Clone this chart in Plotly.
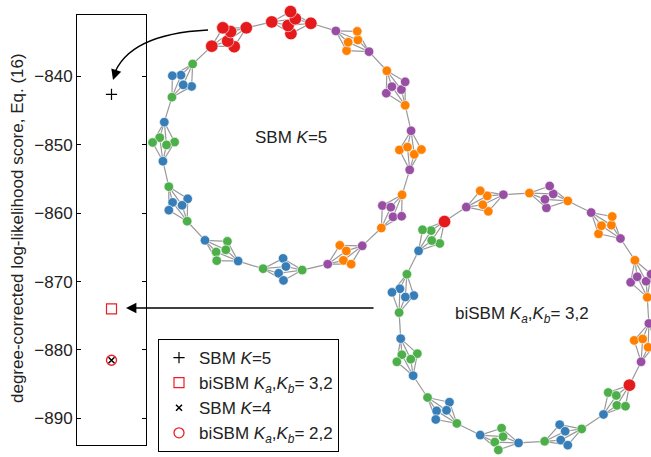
import math
import plotly.graph_objects as go

W, H = 651, 457

# ---------------- data ----------------
model_names = [
    "SBM <i>K</i>=5",
    "biSBM <i>K<sub>a</sub></i>,<i>K<sub>b</sub></i>= 3,2",
    "SBM <i>K</i>=4",
    "biSBM <i>K<sub>a</sub></i>,<i>K<sub>b</sub></i>= 2,2",
]
model_scores = [-842.6, -874.0, -881.5, -881.5]
y_tick_values = [-890, -880, -870, -860, -850, -840]

# ring of 12 bicliques; group label of each clique's first end, interior (4 nodes), second end
sbm_end1 = ["r", "r", "p", "o", "p", "o", "p", "g", "b", "g", "b", "g"]
sbm_inner = ["r", "r", "o", "p", "o", "p", "o", "b", "g", "b", "g", "b"]
sbm_end2 = ["r", "r", "p", "o", "p", "o", "p", "g", "b", "g", "b", "g"]

bisbm_end1 = ["p", "o", "p", "o", "p", "r", "g", "b", "g", "b", "g", "b"]
bisbm_inner = ["o", "p", "o", "p", "o", "g", "b", "g", "b", "g", "b", "g"]
bisbm_end2 = ["p", "o", "p", "o", "p", "b", "g", "b", "g", "b", "g", "r"]

# ---------------- styles ----------------
GROUP_COLORS = {"r": "#e41a1c", "b": "#377eb8", "g": "#4daf4a", "p": "#984ea3", "o": "#ff7f00"}
GROUP_SIZES = {"r": 12.5, "b": 9.5, "g": 9.5, "p": 9.5, "o": 9.5}
FONT = "Liberation Sans, Arial, Helvetica, sans-serif"
EDGE_COLOR = "#999999"
INNER_T = [0.50, 0.42, 0.60, 0.47]
INNER_S = [-11, -3, 4, 11]


def ring_of_cliques(end1, inner, end2, cx, cy, R, theta0, step=30.0, half=9.0):
    xs, ys, cols, sizes = [], [], [], []
    ex, ey = [], []
    ends = []
    for k in range(len(end1)):
        th = math.radians(theta0 - step * k)
        d = math.radians(half)
        e1 = (cx + R * math.cos(th + d), cy - R * math.sin(th + d))
        e2 = (cx + R * math.cos(th - d), cy - R * math.sin(th - d))
        nx, ny = math.cos(th), -math.sin(th)
        pts_in = []
        for t, s in zip(INNER_T, INNER_S):
            px = e1[0] + t * (e2[0] - e1[0]) + s * nx
            py = e1[1] + t * (e2[1] - e1[1]) + s * ny
            pts_in.append((px, py))
        for p in pts_in:
            for e in (e1, e2):
                ex += [e[0], p[0], None]
                ey += [e[1], p[1], None]
        ends.append((e1, e2))
        for p, g in [(e1, end1[k])] + [(q, inner[k]) for q in pts_in] + [(e2, end2[k])]:
            xs.append(p[0]); ys.append(p[1])
            cols.append(GROUP_COLORS[g]); sizes.append(GROUP_SIZES[g])
    n = len(ends)
    for k in range(n):
        a = ends[k][1]
        b = ends[(k + 1) % n][0]
        ex += [a[0], b[0], None]
        ey += [a[1], b[1], None]
    return xs, ys, cols, sizes, ex, ey


fig = go.Figure()

# ---------------- networks (pixel-like coordinates on x2/y2) ----------------
for (e1, inn, e2, cx, cy, R, th0) in [
    (sbm_end1, sbm_inner, sbm_end2, 287, 146, 125, 118),
    (bisbm_end1, bisbm_inner, bisbm_end2, 524, 318, 125, 108.5),
]:
    xs, ys, cols, sizes, ex, ey = ring_of_cliques(e1, inn, e2, cx, cy, R, th0)
    fig.add_trace(go.Scatter(x=ex, y=ey, mode="lines", xaxis="x2", yaxis="y2",
                             line=dict(color=EDGE_COLOR, width=1.2),
                             hoverinfo="skip", showlegend=False))
    fig.add_trace(go.Scatter(x=xs, y=ys, mode="markers", xaxis="x2", yaxis="y2",
                             marker=dict(color=cols, size=sizes, opacity=1,
                                         line=dict(color="white", width=0.6)),
                             hoverinfo="skip", showlegend=False))

# ---------------- score panel ----------------
marker_styles = [
    dict(symbol="cross-thin-open", size=8, color="black", line=dict(color="black", width=1.2)),
    dict(symbol="square-open", size=10, color="#ee1c24", line=dict(color="#ee1c24", width=1.2)),
    dict(symbol="x-thin-open", size=6, color="black", line=dict(color="black", width=1.5)),
    dict(symbol="circle-open", size=10, color="#ee1c24", line=dict(color="#ee1c24", width=1.3)),
]
for i, (name, val) in enumerate(zip(model_names, model_scores)):
    fig.add_trace(go.Scatter(x=[0], y=[val], mode="markers", name=name,
                             marker=marker_styles[i], xaxis="x", yaxis="y"))

# ---------------- arrows & labels ----------------
fig.add_shape(type="path", path="M 208 30 Q 128 34 113.5 76", xref="x2", yref="y2",
              line=dict(color="black", width=1.3))
annotations = [
    dict(x=113, y=80, ax=3.8, ay=-11.5, xref="x2", yref="y2", text="", showarrow=True,
         arrowhead=2, arrowsize=1.6, arrowwidth=1.3, arrowcolor="black"),
    dict(x=126, y=308, ax=375, ay=308, xref="x2", yref="y2", axref="x2", ayref="y2",
         text="", showarrow=True, arrowhead=2, arrowsize=1.6, arrowwidth=1.3,
         arrowcolor="black"),
    dict(x=291, y=137, xref="x2", yref="y2", text="SBM <i>K</i>=5", showarrow=False,
         font=dict(size=17, color="#222")),
    dict(x=522, y=315, xref="x2", yref="y2",
         text="biSBM <i>K<sub>a</sub></i>,<i>K<sub>b</sub></i>= 3,2", showarrow=False,
         font=dict(size=17, color="#222")),
    dict(x=17, y=228, xref="x2", yref="y2", text="degree-corrected log-likelihood score, Eq. (16)",
         textangle=-90, showarrow=False, font=dict(size=17, color="#222")),
]

fig.update_layout(
    width=W, height=H,
    margin=dict(l=0, r=0, t=0, b=0),
    paper_bgcolor="white", plot_bgcolor="rgba(0,0,0,0)",
    font=dict(family=FONT, size=17, color="#222"),
    xaxis=dict(domain=[77 / W, 146 / W], range=[-1, 1], showticklabels=False, ticks="",
               showline=True, mirror=True, linecolor="black", linewidth=1,
               showgrid=False, zeroline=False, fixedrange=True),
    yaxis=dict(domain=[1 - 445 / H, 1 - 15 / H], range=[-893.9, -831.0],
               tickvals=y_tick_values, ticks="inside", ticklen=4, tickcolor="black",
               showline=True, mirror="ticks", linecolor="black", linewidth=1,
               showgrid=False, zeroline=False, tickfont=dict(size=17, color="#222"),
               fixedrange=True),
    xaxis2=dict(domain=[0, 1], range=[0, W], visible=False, anchor="y2", fixedrange=True),
    yaxis2=dict(domain=[0, 1], range=[H, 0], visible=False, anchor="x2", fixedrange=True),
    showlegend=True,
    legend=dict(x=158 / W, y=1 - 339 / H, xanchor="left", yanchor="top",
                bordercolor="black", borderwidth=1, bgcolor="white",
                font=dict(size=17, color="#222"), traceorder="normal"),
    annotations=annotations,
)

fig.write_html("out.html")
